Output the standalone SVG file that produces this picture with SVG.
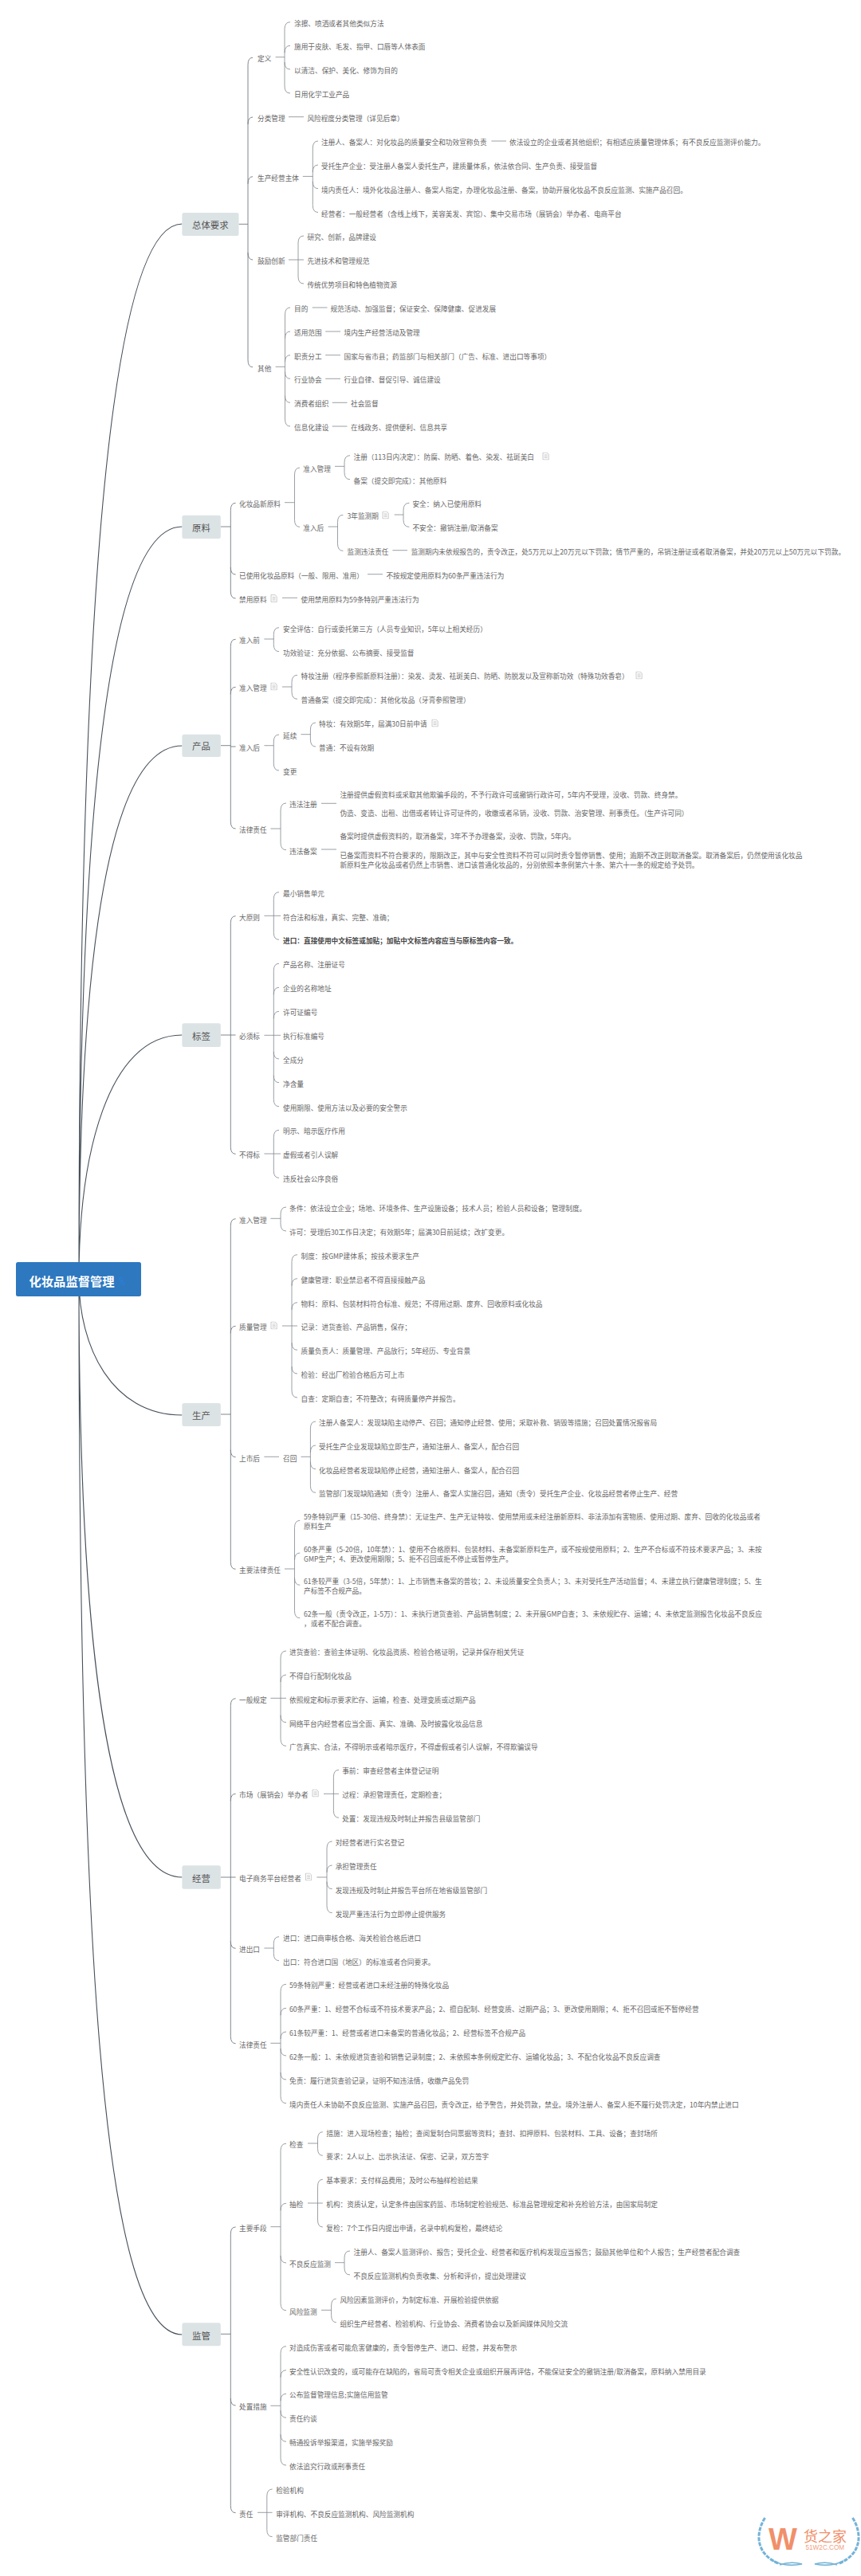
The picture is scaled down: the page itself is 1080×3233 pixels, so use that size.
<svg xmlns="http://www.w3.org/2000/svg" width="1080" height="3233" viewBox="0 0 1080 3233">
<style>
text{font-family:"Noto Sans CJK SC","Noto Sans",sans-serif;dominant-baseline:central}
.t{font-size:8.67px;fill:#666}
.b{font-weight:700;fill:#444}
.h{font-size:11.4px;fill:#555}
.r{font-size:15.3px;font-weight:700;fill:#fff}
.box{fill:#dce3e5}
path{fill:none}
.c1{stroke:#46505a;stroke-width:1.1}
.c2{stroke:#737b82;stroke-width:.9}
.c3{stroke:#81888e;stroke-width:.8}
.leaf{stroke:#74b3d8;stroke-width:3;stroke-dasharray:5 1.4}
.sw{stroke:#74b3d8;stroke-width:1.6}
</style>
<defs>
<symbol id="note" viewBox="0 0 9 10" width="9" height="10"><path d="M1 .6H6L8.2 2.6V9.4H1ZM2.6 3.4H6.6M2.6 5.2H6.6M2.6 7H6.6" stroke="#aaa" stroke-width=".6"/></symbol>
</defs>
<rect width="1080" height="3233" fill="#fff"/>
<g id="connectors">
<path class="c1" d="M99 1605C99 900 125 281 228.4 281M99 1605C99 1200 115 661 228.4 661M99 1605C99 1300 120 936 228.4 936M99 1605C99 1450 135 1299 228.4 1299M99 1605C99 1690 140 1776 228.4 1776M99 1605C99 2000 125 2356 228.4 2356M99 1605C99 2400 125 2930 228.4 2930"/>
<path class="c2" d="M299.5 281.3H311M317 72.3Q311 72.3 311 81.3V451.7Q311 460.7 317 460.7M311 156Q311 147 317 147M311 230.7Q311 221.7 317 221.7M311 317Q311 326 317 326"/>
<path class="c2" d="M276.8 661H289.3M295.6 631.3Q289.3 631.3 289.3 640.3V742Q289.3 751 295.6 751M289.3 712Q289.3 721 295.6 721"/>
<path class="c2" d="M276.8 935.7H289.3M295.6 802.3Q289.3 802.3 289.3 811.3V1031Q289.3 1040 295.6 1040M289.3 871.3Q289.3 862.3 295.6 862.3M289.3 937H295.6"/>
<path class="c2" d="M276.8 1299H295.6M295.6 1149.7Q289.3 1149.7 289.3 1158.7V1439.3Q289.3 1448.3 295.6 1448.3"/>
<path class="c2" d="M276.8 1775H289.3M295.6 1529.7Q289.3 1529.7 289.3 1538.7V1960.3Q289.3 1969.3 295.6 1969.3M289.3 1673.3Q289.3 1664.3 295.6 1664.3M289.3 1819.7Q289.3 1828.7 295.6 1828.7"/>
<path class="c2" d="M276.8 2356H295.6M295.6 2131.7Q289.3 2131.7 289.3 2140.7V2555.7Q289.3 2564.7 295.6 2564.7M289.3 2260.3Q289.3 2251.3 295.6 2251.3M289.3 2436.3Q289.3 2445.3 295.6 2445.3"/>
<path class="c2" d="M276.8 2929.3H289.3M295.6 2795Q289.3 2795 289.3 2804V3144.7Q289.3 3153.7 295.6 3153.7M289.3 3010Q289.3 3019 295.6 3019"/>
<path class="c3" d="M345.6 71.7H357M364 27.7Q357 27.7 357 36.7V108Q357 117 364 117M357 66.3Q357 57.3 364 57.3M357 78Q357 87 364 87M362 146.7H381M616.4 177H635M379.8 221.4H392.3M399 177Q392.3 177 392.3 186V257.5Q392.3 266.5 399 266.5M392.3 216Q392.3 207 399 207M392.3 227.7Q392.3 236.7 399 236.7M362 326H381M381 296Q374 296 374 305V347Q374 356 381 356M345.6 460.3H357.5M364 386Q357.5 386 357.5 395V526Q357.5 535 364 535M357.5 425Q357.5 416 364 416M357.5 454.7Q357.5 445.7 364 445.7M357.5 466.3Q357.5 475.3 364 475.3M357.5 496.3Q357.5 505.3 364 505.3M391.7 386H410.5M408.2 416H427M408.2 445.7H427M408.2 475.3H427M416.7 505.3H435.5M416.7 535H435.5"/>
<path class="c3" d="M357 630.7H369.5M376 587Q369.5 587 369.5 596V652.3Q369.5 661.3 376 661.3M420 585.3H432M439 571.7Q432 571.7 432 580.7V592.7Q432 601.7 439 601.7M411.6 661H423.5M430.4 646.3Q423.5 646.3 423.5 655.3V682.3Q423.5 691.3 430.4 691.3M494.7 646H506M513.4 631.3Q506 631.3 506 640.3V652.3Q506 661.3 513.4 661.3M492.4 690.7H511M461 720.7H480M354 750.3H373"/>
<path class="c3" d="M331.4 802H343.3M350 787.7Q343.3 787.7 343.3 796.7V808.7Q343.3 817.7 350 817.7M354 862H366M373 847.3Q366 847.3 366 856.3V868.3Q366 877.3 373 877.3M331.4 935.7H343.3M350 922Q343.3 922 343.3 931V958Q343.3 967 350 967M377.5 921.7H389.4M396 907Q389.4 907 389.4 916V928Q389.4 937 396 937M339.4 1040H352M359 1008Q352 1008 352 1017V1057.7Q352 1066.7 359 1066.7M403 1008.3H422M403 1066H422"/>
<path class="c3" d="M331.4 1149.3H352M350 1119.7Q343.3 1119.7 343.3 1128.7V1170.3Q343.3 1179.3 350 1179.3M331.4 1299.3H352M350 1209.3Q343.3 1209.3 343.3 1218.3V1379.7Q343.3 1388.7 350 1388.7M343.3 1248.3Q343.3 1239.3 350 1239.3M343.3 1278.3Q343.3 1269.3 350 1269.3M343.3 1320Q343.3 1329 350 1329M343.3 1349.7Q343.3 1358.7 350 1358.7M331.4 1448H352M350 1418.3Q343.3 1418.3 343.3 1427.3V1469.3Q343.3 1478.3 350 1478.3"/>
<path class="c3" d="M339.4 1529.3H352M359 1515Q352 1515 352 1524V1536Q352 1545 359 1545M354 1664H373M373 1574.7Q366 1574.7 366 1583.7V1745Q366 1754 373 1754M366 1613.7Q366 1604.7 373 1604.7M366 1643.7Q366 1634.7 373 1634.7M366 1685.3Q366 1694.3 373 1694.3M366 1715Q366 1724 373 1724M331.4 1828.3H350M377.5 1828.3H389.4M396 1784Q389.4 1784 389.4 1793V1864.3Q389.4 1873.3 396 1873.3M389.4 1823Q389.4 1814 396 1814M389.4 1834.7Q389.4 1843.7 396 1843.7M357 1969H369.5M376.3 1908.3Q369.5 1908.3 369.5 1917.3V2021.7Q369.5 2030.7 376.3 2030.7M369.5 1958Q369.5 1949 376.3 1949M369.5 1980.3Q369.5 1989.3 376.3 1989.3"/>
<path class="c3" d="M339.4 2131.3H359M359 2072Q352 2072 352 2081V2182.3Q352 2191.3 359 2191.3M352 2111Q352 2102 359 2102M352 2152.7Q352 2161.7 359 2161.7M406 2251.3H425M425 2221.3Q418.4 2221.3 418.4 2230.3V2272.3Q418.4 2281.3 425 2281.3M397.4 2356H410M416.7 2311Q410 2311 410 2320V2391.7Q410 2400.7 416.7 2400.7M410 2350Q410 2341 416.7 2341M410 2361.7Q410 2370.7 416.7 2370.7M331.4 2445H343.3M350 2430.7Q343.3 2430.7 343.3 2439.7V2451.7Q343.3 2460.7 350 2460.7M339.4 2564.3H352M359 2490.3Q352 2490.3 352 2499.3V2630.7Q352 2639.7 359 2639.7M352 2529.3Q352 2520.3 359 2520.3M352 2559Q352 2550 359 2550M352 2571Q352 2580 359 2580M352 2601Q352 2610 359 2610"/>
<path class="c3" d="M339.4 2794.7H352M359 2690.3Q352 2690.3 352 2699.3V2890.7Q352 2899.7 359 2899.7M352 2774.3Q352 2765.3 359 2765.3M352 2831Q352 2840 359 2840M386 2690H398.5M404.8 2675.7Q398.5 2675.7 398.5 2684.7V2696.3Q398.5 2705.3 404.8 2705.3M386 2765H404.8M404.8 2735.3Q398.5 2735.3 398.5 2744.3V2786Q398.5 2795 404.8 2795M420 2839.7H432M439 2825Q432 2825 432 2834V2846Q432 2855 439 2855M403 2899.3H415.6M421.8 2885Q415.6 2885 415.6 2894V2905.7Q415.6 2914.7 421.8 2914.7M339.4 3019.3H352M359 2944.7Q352 2944.7 352 2953.7V3085Q352 3094 359 3094M352 2983.7Q352 2974.7 359 2974.7M352 3013.3Q352 3004.3 359 3004.3M352 3025.3Q352 3034.3 359 3034.3M352 3055.3Q352 3064.3 359 3064.3M323 3153.3H341.6M341.6 3124Q334.8 3124 334.8 3133V3174.7Q334.8 3183.7 341.6 3183.7"/>
</g>
<g id="root"><rect x="20" y="1584" width="157" height="43" rx="2.5" fill="#2e78c0"/><text class="r" x="36.5" y="1607">化妆品监督管理</text><path d="M149.5 1604.5l3 -1 2 2 -2 2 -2 -1ZM152.5 1607.5l2 1 2 2 -2 2 -3 -2Z" stroke="#2a7fe0" stroke-width=".9"/></g>
<g id="sec1"><rect class="box" x="228.4" y="267" width="71.1" height="29" rx="2.5"/><text class="h" x="241" y="282">总体要求</text></g>
<g id="sec2"><rect class="box" x="228.4" y="646.7" width="48.4" height="29.3" rx="2.5"/><text class="h" x="241" y="661.5">原料</text></g>
<g id="sec3"><rect class="box" x="228.4" y="921.7" width="48.4" height="28.3" rx="2.5"/><text class="h" x="241" y="936">产品</text></g>
<g id="sec4"><rect class="box" x="228.4" y="1284.3" width="48.4" height="29.7" rx="2.5"/><text class="h" x="241" y="1299.5">标签</text></g>
<g id="sec5"><rect class="box" x="228.4" y="1761" width="48.4" height="29" rx="2.5"/><text class="h" x="241" y="1776">生产</text></g>
<g id="sec6"><rect class="box" x="228.4" y="2341.3" width="48.4" height="29.4" rx="2.5"/><text class="h" x="241" y="2356.5">经营</text></g>
<g id="sec7"><rect class="box" x="228.4" y="2915.3" width="48.4" height="29" rx="2.5"/><text class="h" x="241" y="2930.5">监管</text></g>
<g id="a1"><text class="t" x="323" y="73.3">定义</text></g>
<g id="a2"><text class="t" x="369" y="28.7">涂擦、喷洒或者其他类似方法</text></g>
<g id="a3"><text class="t" x="369" y="58.3">施用于皮肤、毛发、指甲、口唇等人体表面</text></g>
<g id="a4"><text class="t" x="369" y="88">以清洁、保护、美化、修饰为目的</text></g>
<g id="a5"><text class="t" x="369" y="118">日用化学工业产品</text></g>
<g id="a6"><text class="t" x="323" y="148">分类管理</text></g>
<g id="a7"><text class="t" x="385.4" y="148">风险程度分类管理（详见后章）</text></g>
<g id="a8"><text class="t" x="323" y="222.7">生产经营主体</text></g>
<g id="a9"><text class="t" x="403" y="178">注册人、备案人：对化妆品的质量安全和功效宣称负责</text></g>
<g id="a10"><text class="t" x="639" y="178">依法设立的企业或者其他组织；有相适应质量管理体系；有不良反应监测评价能力。</text></g>
<g id="a11"><text class="t" x="403" y="208">受托生产企业：受注册人备案人委托生产，建质量体系，依法依合同、生产负责、接受监督</text></g>
<g id="a12"><text class="t" x="403" y="237.7">境内责任人：境外化妆品注册人、备案人指定，办理化妆品注册、备案，协助开展化妆品不良反应监测、实施产品召回。</text></g>
<g id="a13"><text class="t" x="403" y="267.5">经营者：一般经营者（含线上线下，美容美发、宾馆）、集中交易市场（展销会）举办者、电商平台</text></g>
<g id="a14"><text class="t" x="323" y="327">鼓励创新</text></g>
<g id="a15"><text class="t" x="385.4" y="297">研究、创新，品牌建设</text></g>
<g id="a16"><text class="t" x="385.4" y="327">先进技术和管理规范</text></g>
<g id="a17"><text class="t" x="385.4" y="357">传统优势项目和特色植物资源</text></g>
<g id="a18"><text class="t" x="323" y="461.7">其他</text></g>
<g id="a19"><text class="t" x="369" y="387">目的</text></g>
<g id="a20"><text class="t" x="414.4" y="387">规范活动、加强监督；保证安全、保障健康、促进发展</text></g>
<g id="a21"><text class="t" x="369" y="417">适用范围</text></g>
<g id="a22"><text class="t" x="431.5" y="417">境内生产经营活动及管理</text></g>
<g id="a23"><text class="t" x="369" y="446.7">职责分工</text></g>
<g id="a24"><text class="t" x="431.5" y="446.7">国家与省市县；药监部门与相关部门（广告、标准、进出口等事项）</text></g>
<g id="a25"><text class="t" x="369" y="476.3">行业协会</text></g>
<g id="a26"><text class="t" x="431.5" y="476.3">行业自律、督促引导、诚信建设</text></g>
<g id="a27"><text class="t" x="369" y="506.3">消费者组织</text></g>
<g id="a28"><text class="t" x="440" y="506.3">社会监督</text></g>
<g id="a29"><text class="t" x="369" y="536">信息化建设</text></g>
<g id="a30"><text class="t" x="440" y="536">在线政务、提供便利、信息共享</text></g>
<g id="b1"><text class="t" x="300" y="632.3">化妆品新原料</text></g>
<g id="b2"><text class="t" x="380.3" y="588">准入管理</text></g>
<g id="b3"><text class="t" x="443.5" y="572.7">注册（113日内决定）：防腐、防晒、着色、染发、祛斑美白</text><use href="#note" x="680" y="567.5"/></g>
<g id="b4"><text class="t" x="443.5" y="602.7">备案（提交即完成）：其他原料</text></g>
<g id="b5"><text class="t" x="380.3" y="662.3">准入后</text></g>
<g id="b6"><text class="t" x="435.5" y="647.3">3年监测期</text><use href="#note" x="479" y="641.5"/></g>
<g id="b7"><text class="t" x="517.4" y="632.3">安全：纳入已使用原料</text></g>
<g id="b8"><text class="t" x="517.4" y="662.3">不安全：撤销注册/取消备案</text></g>
<g id="b9"><text class="t" x="435.5" y="692.3">监测违法责任</text></g>
<g id="b10"><text class="t" x="515.7" y="692.3">监测期内未依规报告的，责令改正，处5万元以上20万元以下罚款；情节严重的，吊销注册证或者取消备案，并处20万元以上50万元以下罚款。</text></g>
<g id="b11"><text class="t" x="300" y="722">已使用化妆品原料（一般、限用、准用）</text></g>
<g id="b12"><text class="t" x="484.4" y="722">不按规定使用原料为60条严重违法行为</text></g>
<g id="b13"><text class="t" x="300" y="752">禁用原料</text><use href="#note" x="339" y="746"/></g>
<g id="b14"><text class="t" x="377.5" y="752">使用禁用原料为59条特别严重违法行为</text></g>
<g id="c1"><text class="t" x="300" y="803.3">准入前</text></g>
<g id="c2"><text class="t" x="355" y="788.7">安全评估：自行或委托第三方（人员专业知识，5年以上相关经历）</text></g>
<g id="c3"><text class="t" x="355" y="818.7">功效验证：充分依据、公布摘要、接受监督</text></g>
<g id="c4"><text class="t" x="300" y="863.3">准入管理</text><use href="#note" x="339" y="856.5"/></g>
<g id="c5"><text class="t" x="377.5" y="848.3">特妆注册（程序参照新原料注册）：染发、烫发、祛斑美白、防晒、防脱发以及宣称新功效（特殊功效香皂）</text><use href="#note" x="797" y="842.5"/></g>
<g id="c6"><text class="t" x="377.5" y="878.3">普通备案（提交即完成）：其他化妆品（牙膏参照管理）</text></g>
<g id="c7"><text class="t" x="300" y="938">准入后</text></g>
<g id="c8"><text class="t" x="355" y="923">延续</text></g>
<g id="c9"><text class="t" x="400" y="908">特妆：有效期5年，届满30日前申请</text><use href="#note" x="541" y="902.5"/></g>
<g id="c10"><text class="t" x="400" y="938">普通：不设有效期</text></g>
<g id="c11"><text class="t" x="355" y="968">变更</text></g>
<g id="c12"><text class="t" x="300" y="1041">法律责任</text></g>
<g id="c13"><text class="t" x="363" y="1009">违法注册</text></g>
<g id="c14"><text class="t" x="426.4" y="996.7">注册提供虚假资料或采取其他欺骗手段的，不予行政许可或撤销行政许可，5年内不受理，没收、罚款、终身禁。</text><text class="t" x="426.4" y="1020.3">伪造、变造、出租、出借或者转让许可证件的，收缴或者吊销，没收、罚款、治安管理、刑事责任。（生产许可同）</text></g>
<g id="c15"><text class="t" x="363" y="1067.7">违法备案</text></g>
<g id="c16"><text class="t" x="426.4" y="1049">备案时提供虚假资料的，取消备案，3年不予办理备案，没收、罚款，5年内。</text><text class="t" x="426.4" y="1073">已备案而资料不符合要求的，限期改正，其中与安全性资料不符可以同时责令暂停销售、使用；逾期不改正则取消备案。取消备案后，仍然使用该化妆品</text><text class="t" x="426.4" y="1085">新原料生产化妆品或者仍然上市销售、进口该普通化妆品的，分别依照本条例第六十条、第六十一条的规定给予处罚。</text></g>
<g id="d1"><text class="t" x="300" y="1150.7">大原则</text></g>
<g id="d2"><text class="t" x="355" y="1120.7">最小销售单元</text></g>
<g id="d3"><text class="t" x="355" y="1150.7">符合法和标准，真实、完整、准确；</text></g>
<g id="d4"><text class="t b" x="355" y="1180.3">进口：直接使用中文标签或加贴；加贴中文标签内容应当与原标签内容一致。</text></g>
<g id="d5"><text class="t" x="300" y="1300">必须标</text></g>
<g id="d6"><text class="t" x="355" y="1210.3">产品名称、注册证号</text></g>
<g id="d7"><text class="t" x="355" y="1240.3">企业的名称地址</text></g>
<g id="d8"><text class="t" x="355" y="1270.3">许可证编号</text></g>
<g id="d9"><text class="t" x="355" y="1300">执行标准编号</text></g>
<g id="d10"><text class="t" x="355" y="1330">全成分</text></g>
<g id="d11"><text class="t" x="355" y="1359.7">净含量</text></g>
<g id="d12"><text class="t" x="355" y="1389.7">使用期限、使用方法以及必要的安全警示</text></g>
<g id="d13"><text class="t" x="300" y="1449.3">不得标</text></g>
<g id="d14"><text class="t" x="355" y="1419.3">明示、暗示医疗作用</text></g>
<g id="d15"><text class="t" x="355" y="1449.3">虚假或者引人误解</text></g>
<g id="d16"><text class="t" x="355" y="1479.3">违反社会公序良俗</text></g>
<g id="e1"><text class="t" x="300" y="1530.7">准入管理</text></g>
<g id="e2"><text class="t" x="363" y="1516">条件：依法设立企业；场地、环境条件、生产设施设备；技术人员；检验人员和设备；管理制度。</text></g>
<g id="e3"><text class="t" x="363" y="1546">许可：受理后30工作日决定；有效期5年；届满30日前延续；改扩变更。</text></g>
<g id="e4"><text class="t" x="300" y="1665.3">质量管理</text><use href="#note" x="339" y="1658.5"/></g>
<g id="e5"><text class="t" x="377.5" y="1575.7">制度：按GMP建体系；按技术要求生产</text></g>
<g id="e6"><text class="t" x="377.5" y="1605.7">健康管理：职业禁忌者不得直接接触产品</text></g>
<g id="e7"><text class="t" x="377.5" y="1635.7">物料：原料、包装材料符合标准、规范；不得用过期、废弃、回收原料或化妆品</text></g>
<g id="e8"><text class="t" x="377.5" y="1665.3">记录：进货查验、产品销售，保存；</text></g>
<g id="e9"><text class="t" x="377.5" y="1695.3">质量负责人：质量管理、产品放行；5年经历、专业背景</text></g>
<g id="e10"><text class="t" x="377.5" y="1725">检验：经出厂检验合格后方可上市</text></g>
<g id="e11"><text class="t" x="377.5" y="1755">自查：定期自查；不符整改；有碍质量停产并报告。</text></g>
<g id="e12"><text class="t" x="300" y="1829.7">上市后</text></g>
<g id="e13"><text class="t" x="355" y="1829.7">召回</text></g>
<g id="e14"><text class="t" x="400" y="1785">注册人备案人：发现缺陷主动停产、召回；通知停止经营、使用；采取补救、销毁等措施；召回处置情况报省局</text></g>
<g id="e15"><text class="t" x="400" y="1815">受托生产企业发现缺陷立即生产，通知注册人、备案人，配合召回</text></g>
<g id="e16"><text class="t" x="400" y="1844.7">化妆品经营者发现缺陷停止经营，通知注册人、备案人，配合召回</text></g>
<g id="e17"><text class="t" x="400" y="1874.3">监管部门发现缺陷通知（责令）注册人、备案人实施召回，通知（责令）受托生产企业、化妆品经营者停止生产、经营</text></g>
<g id="e18"><text class="t" x="300" y="1970.3">主要法律责任</text></g>
<g id="e19"><text class="t" x="381" y="1903">59条特别严重（15-30倍、终身禁）：无证生产、生产无证特妆、使用禁用或未经注册新原料、非法添加有害物质、使用过期、废弃、回收的化妆品或者</text><text class="t" x="381" y="1915">原料生产</text></g>
<g id="e20"><text class="t" x="381" y="1943.7">60条严重（5-20倍，10年禁）：1、使用不合格原料、包装材料、未备案新原料生产，或不按规使用原料；2、生产不合标或不符技术要求产品；3、未按</text><text class="t" x="381" y="1955.7">GMP生产；4、更改使用期限；5、拒不召回或拒不停止或暂停生产。</text></g>
<g id="e21"><text class="t" x="381" y="1984.3">61条较严重（3-5倍，5年禁）：1、上市销售未备案的普妆；2、未设质量安全负责人；3、未对受托生产活动监督；4、未建立执行健康管理制度；5、生</text><text class="t" x="381" y="1996.3">产标签不合规产品。</text></g>
<g id="e22"><text class="t" x="381" y="2025">62条一般（责令改正，1-5万）：1、未执行进货查验、产品销售制度；2、未开展GMP自查；3、未依规贮存、运输；4、未依定监测报告化妆品不良反应</text><text class="t" x="381" y="2037">，或者不配合调查。</text></g>
<g id="f1"><text class="t" x="300" y="2132.7">一般规定</text></g>
<g id="f2"><text class="t" x="363" y="2073">进货查验：查验主体证明、化妆品资质、检验合格证明，记录并保存相关凭证</text></g>
<g id="f3"><text class="t" x="363" y="2103">不得自行配制化妆品</text></g>
<g id="f4"><text class="t" x="363" y="2132.7">依照规定和标示要求贮存、运输，检查、处理变质或过期产品</text></g>
<g id="f5"><text class="t" x="363" y="2162.7">网络平台内经营者应当全面、真实、准确、及时披露化妆品信息</text></g>
<g id="f6"><text class="t" x="363" y="2192.3">广告真实、合法，不得明示或者暗示医疗，不得虚假或者引人误解，不得欺骗误导</text></g>
<g id="f7"><text class="t" x="300" y="2252.3">市场（展销会）举办者</text><use href="#note" x="391" y="2245.5"/></g>
<g id="f8"><text class="t" x="429.2" y="2222.3">事前：审查经营者主体登记证明</text></g>
<g id="f9"><text class="t" x="429.2" y="2252.3">过程：承担管理责任，定期检查；</text></g>
<g id="f10"><text class="t" x="429.2" y="2282.3">处置：发现违规及时制止并报告县级监管部门</text></g>
<g id="f11"><text class="t" x="300" y="2357">电子商务平台经营者</text><use href="#note" x="382.5" y="2350.5"/></g>
<g id="f12"><text class="t" x="420.7" y="2312">对经营者进行实名登记</text></g>
<g id="f13"><text class="t" x="420.7" y="2342">承担管理责任</text></g>
<g id="f14"><text class="t" x="420.7" y="2371.7">发现违规及时制止并报告平台所在地省级监管部门</text></g>
<g id="f15"><text class="t" x="420.7" y="2401.7">发现严重违法行为立即停止提供服务</text></g>
<g id="f16"><text class="t" x="300" y="2446.3">进出口</text></g>
<g id="f17"><text class="t" x="355" y="2431.7">进口：进口商审核合格、海关检验合格后进口</text></g>
<g id="f18"><text class="t" x="355" y="2461.7">出口：符合进口国（地区）的标准或者合同要求。</text></g>
<g id="f19"><text class="t" x="300" y="2565.7">法律责任</text></g>
<g id="f20"><text class="t" x="363" y="2491.3">59条特别严重：经营或者进口未经注册的特殊化妆品</text></g>
<g id="f21"><text class="t" x="363" y="2521.3">60条严重：1、经营不合标或不符技术要求产品；2、擅自配制、经营变质、过期产品；3、更改使用期限；4、拒不召回或拒不暂停经营</text></g>
<g id="f22"><text class="t" x="363" y="2551">61条较严重：1、经营或者进口未备案的普通化妆品；2、经营标签不合规产品</text></g>
<g id="f23"><text class="t" x="363" y="2581">62条一般：1、未依规进货查验和销售记录制度；2、未依照本条例规定贮存、运输化妆品；3、不配合化妆品不良反应调查</text></g>
<g id="f24"><text class="t" x="363" y="2611">免责：履行进货查验记录，证明不知违法情，收缴产品免罚</text></g>
<g id="f25"><text class="t" x="363" y="2640.7">境内责任人未协助不良反应监测、实施产品召回，责令改正，给予警告，并处罚款，禁业。境外注册人、备案人拒不履行处罚决定，10年内禁止进口</text></g>
<g id="g1"><text class="t" x="300" y="2796">主要手段</text></g>
<g id="g2"><text class="t" x="363" y="2691.3">检查</text></g>
<g id="g3"><text class="t" x="409.3" y="2676.7">措施：进入现场检查；抽检；查阅复制合同票据等资料；查封、扣押原料、包装材料、工具、设备；查封场所</text></g>
<g id="g4"><text class="t" x="409.3" y="2706.3">要求：2人以上、出示执法证、保密、记录，双方签字</text></g>
<g id="g5"><text class="t" x="363" y="2766.3">抽检</text></g>
<g id="g6"><text class="t" x="409.3" y="2736.3">基本要求：支付样品费用；及时公布抽样检验结果</text></g>
<g id="g7"><text class="t" x="409.3" y="2766.3">机构：资质认定，认定条件由国家药监、市场制定检验规范、标准品管理规定和补充检验方法，由国家局制定</text></g>
<g id="g8"><text class="t" x="409.3" y="2796">复检：7个工作日内提出申请，名录中机构复检，最终结论</text></g>
<g id="g9"><text class="t" x="363" y="2841">不良反应监测</text></g>
<g id="g10"><text class="t" x="443.5" y="2826">注册人、备案人监测评价、报告；受托企业、经营者和医疗机构发现应当报告；鼓励其他单位和个人报告；生产经营者配合调查</text></g>
<g id="g11"><text class="t" x="443.5" y="2856">不良反应监测机构负责收集、分析和评价，提出处理建议</text></g>
<g id="g12"><text class="t" x="363" y="2900.7">风险监测</text></g>
<g id="g13"><text class="t" x="426.4" y="2886">风险因素监测评价，为制定标准、开展检验提供依据</text></g>
<g id="g14"><text class="t" x="426.4" y="2915.7">组织生产经营者、检验机构、行业协会、消费者协会以及新闻媒体风险交流</text></g>
<g id="g15"><text class="t" x="300" y="3020">处置措施</text></g>
<g id="g16"><text class="t" x="363" y="2945.7">对造成伤害或者可能危害健康的，责令暂停生产、进口、经营，并发布警示</text></g>
<g id="g17"><text class="t" x="363" y="2975.7">安全性认识改变的，或可能存在缺陷的，省局可责令相关企业或组织开展再评估，不能保证安全的撤销注册/取消备案，原料纳入禁用目录</text></g>
<g id="g18"><text class="t" x="363" y="3005.3">公布监督管理信息;实施信用监管</text></g>
<g id="g19"><text class="t" x="363" y="3035.3">责任约谈</text></g>
<g id="g20"><text class="t" x="363" y="3065.3">畅通投诉举报渠道，实施举报奖励</text></g>
<g id="g21"><text class="t" x="363" y="3095">依法追究行政或刑事责任</text></g>
<g id="g22"><text class="t" x="300" y="3154.7">责任</text></g>
<g id="g23"><text class="t" x="346.2" y="3125">检验机构</text></g>
<g id="g24"><text class="t" x="346.2" y="3154.7">审评机构、不良反应监测机构、风险监测机构</text></g>
<g id="g25"><text class="t" x="346.2" y="3184.7">监管部门责任</text></g>
<g id="watermark">
<path class="leaf" d="M959.5 3160C946 3182 950 3206 976 3217"/>
<path class="leaf" d="M1069.5 3160C1083 3182 1079 3206 1053 3217"/>
<path class="sw" d="M970 3214Q985 3222 1006 3218Q992 3214 978 3219M1058 3214Q1043 3222 1022 3218Q1036 3214 1050 3219"/>
<text x="964" y="3187" font-size="38" font-weight="700" fill="#f0906a" style="font-family:'Liberation Sans',sans-serif">W</text>
<text x="1008" y="3182" font-size="18" fill="#f0906a">货之家</text>
<text x="1010.5" y="3197" font-size="8.2" fill="#f0a080" style="font-family:'Liberation Sans',sans-serif">51W2C.COM</text>
</g>
</svg>
